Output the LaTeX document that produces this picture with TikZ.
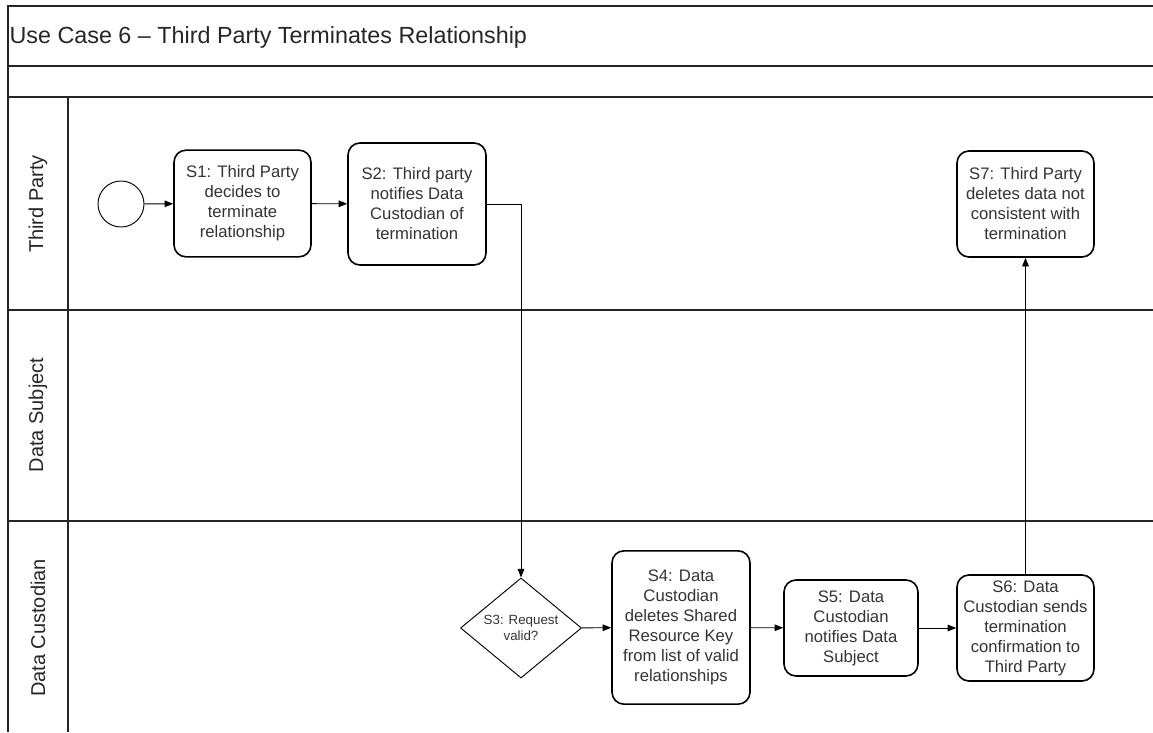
\documentclass[tikz,border=0pt]{standalone}
\usepackage{fontspec}
\setmainfont{Liberation Sans}
\usetikzlibrary{shapes.geometric,arrows.meta}

\begin{document}
\begin{tikzpicture}[x=0.75pt,y=-0.75pt,
		lane/.style={line width=0.8pt,draw=black!85},
		lanename/.style={rotate=90,font=\fontsize{15}{18}\selectfont,text=black!85},
		stepbox/.style={draw,line width=1.2pt,rounded corners=9pt,align=center,inner sep=1pt,text=black!80,font=\fontsize{12.5}{15}\selectfont},
		decision/.style={draw,diamond,line width=0.7pt,inner sep=0pt,align=center,text=black!80,font=\fontsize{10}{12}\selectfont,minimum width=90.75pt,minimum height=67.5pt},
		startev/.style={draw,circle,line width=0.7pt,minimum size=34.5pt,inner sep=0pt},
		flow/.style={line width=0.7pt,-{Triangle[length=6.5pt,width=5pt]}}]
		\useasboundingbox (0,0) rectangle (1153,732);
		
		% pool and lanes
		\draw[lane] (1153,6) -- (8,6) -- (8,732);
		\draw[lane] (8,66) -- (1153,66);
		\draw[lane] (8,97) -- (1153,97);
		\draw[lane] (8,310) -- (1153,310);
		\draw[lane] (8,521) -- (1153,521);
		\draw[lane] (68,97) -- (68,732);
		
		\node[anchor=west,inner sep=1pt,font=\fontsize{17.5}{20}\selectfont,text=black!85] (title) at (8,37) {Use Case 6 -- Third Party Terminates Relationship};
		\node[lanename] (tp) at (38,204) {Third Party};
		\node[lanename] (ds) at (38,415) {Data Subject};
		\node[lanename] (dc) at (38,628) {Data Custodian};
		
		% steps
		\node[startev] (start) at (121,204) {};
		\node[stepbox,minimum width=102.75pt,minimum height=80pt] (s1) at (242.5,203.5) {S1: Third Party\\decides to\\terminate\\relationship};
		\node[stepbox,minimum width=103.5pt,minimum height=91.5pt] (s2) at (417,204) {S2: Third party\\notifies Data\\Custodian of\\termination};
		\node[decision] (s3) at (521,628) {S3: Request\\valid?};
		\node[stepbox,minimum width=103.5pt,minimum height=115pt] (s4) at (681,627.5) {S4: Data\\Custodian\\deletes Shared\\Resource Key\\from list of valid\\relationships};
		\node[stepbox,minimum width=100.5pt,minimum height=72pt] (s5) at (851,628) {S5: Data\\Custodian\\notifies Data\\Subject};
		\node[stepbox,minimum width=102.75pt,minimum height=79.5pt] (s6) at (1025.5,628) {S6: Data\\Custodian sends\\termination\\confirmation to\\Third Party};
		\node[stepbox,minimum width=102.75pt,minimum height=79.5pt] (s7) at (1025.5,204) {S7: Third Party\\deletes data not\\consistent with\\termination};
		
		% flows
		\draw[flow] (start) -- (s1);
		\draw[flow] (s1) -- (s2);
		\draw[flow] (s2.east) -| (s3.north);
		\draw[flow] (s3) -- (s4);
		\draw[flow] (s4) -- (s5);
		\draw[flow] (s5) -- (s6);
		\draw[flow] (s6) -- (s7);
		\end{tikzpicture}
\end{document}
